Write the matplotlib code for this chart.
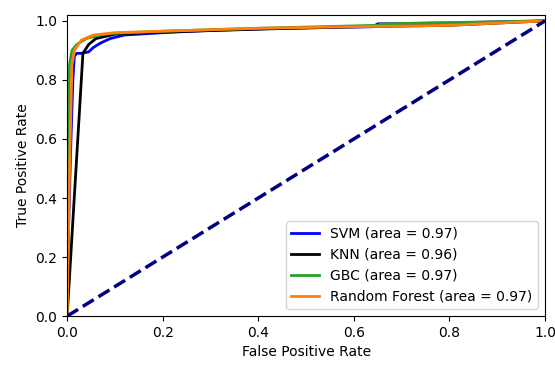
import matplotlib
matplotlib.use("Agg")
import matplotlib.pyplot as plt

# ROC curves
svm_fpr = [0, 0.003, 0.008, 0.012, 0.015, 0.02, 0.03, 0.045, 0.055, 0.07, 0.09, 0.12, 0.2, 0.3, 0.45, 0.64, 0.65, 0.8, 1.0]
svm_tpr = [0, 0.3, 0.6, 0.8, 0.88, 0.89, 0.89, 0.895, 0.91, 0.925, 0.94, 0.952, 0.96, 0.968, 0.975, 0.98, 0.99, 0.993, 1.0]

knn_fpr = [0, 0.033, 0.045, 0.06, 0.1, 0.2, 0.4, 0.6, 0.8, 1.0]
knn_tpr = [0, 0.89, 0.92, 0.94, 0.955, 0.962, 0.972, 0.98, 0.985, 1.0]

gbc_fpr = [0, 0.002, 0.005, 0.01, 0.02, 0.04, 0.07, 0.1, 0.2, 0.4, 0.65, 0.66, 1.0]
gbc_tpr = [0, 0.6, 0.85, 0.9, 0.92, 0.94, 0.953, 0.958, 0.965, 0.975, 0.985, 0.99, 1.0]

rf_fpr = [0, 0.004, 0.006, 0.01, 0.015, 0.03, 0.055, 0.1, 0.2, 0.4, 0.6, 0.8, 1.0]
rf_tpr = [0, 0.4, 0.57, 0.85, 0.9, 0.935, 0.952, 0.96, 0.965, 0.975, 0.98, 0.985, 1.0]

labels = ["SVM (area = 0.97)", "KNN (area = 0.96)", "GBC (area = 0.97)", "Random Forest (area = 0.97)"]

plt.rcParams["font.size"] = 10

fig = plt.figure(figsize=(5.55, 3.65), dpi=100)
ax = fig.add_axes([0.121, 0.134, 0.861, 0.825])

ax.plot(svm_fpr, svm_tpr, color="blue", lw=2, label=labels[0])
ax.plot(knn_fpr, knn_tpr, color="black", lw=2, label=labels[1])
ax.plot(gbc_fpr, gbc_tpr, color="tab:green", lw=2, label=labels[2])
ax.plot(rf_fpr, rf_tpr, color="tab:orange", lw=2, label=labels[3])
ax.plot([0, 1], [0, 1], color="navy", lw=2.5, linestyle="--")

ax.set_xlim(0.0, 1.0)
ax.set_ylim(0.0, 1.02)
ax.set_xlabel("False Positive Rate")
ax.set_ylabel("True Positive Rate")
ax.legend(loc="lower right")

fig.savefig("out.png", dpi=100)
